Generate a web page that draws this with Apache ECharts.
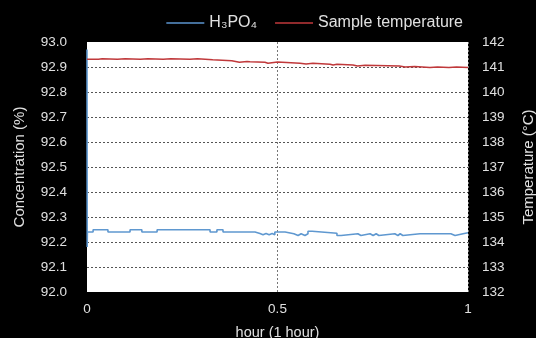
<!DOCTYPE html>
<html><head><meta charset="utf-8">
<script src="https://cdn.jsdelivr.net/npm/echarts@6/dist/echarts.min.js"></script>
<style>html,body{margin:0;padding:0;background:#000;overflow:hidden;width:536px;height:338px;}#c{position:absolute;left:0;top:0;width:536px;height:338px;}</style>
</head><body><div id="c"></div>
<script>
// H3PO4 concentration (%) – step change points (hour, value)
const h3po4Time = [0, 0.0005, 0.001, 0.016, 0.055, 0.113, 0.144, 0.184, 0.289, 0.294, 0.323, 0.341, 0.357, 0.381, 0.386, 0.441, 0.454, 0.462, 0.470, 0.478, 0.486, 0.493, 0.520, 0.543, 0.554, 0.562, 0.572, 0.580, 0.591, 0.596, 0.656, 0.667, 0.711, 0.719, 0.743, 0.751, 0.759, 0.766, 0.808, 0.816, 0.822, 0.829, 0.874, 0.879, 0.955, 0.966, 0.987, 1.0];
const h3po4Values = [92.97, 92.18, 92.24, 92.249, 92.24, 92.249, 92.24, 92.249, 92.243, 92.249, 92.24, 92.249, 92.24, 92.234, 92.24, 92.234, 92.229, 92.234, 92.229, 92.234, 92.229, 92.24, 92.233, 92.226, 92.233, 92.226, 92.233, 92.243, 92.24, 92.235, 92.226, 92.233, 92.226, 92.233, 92.226, 92.233, 92.226, 92.233, 92.226, 92.233, 92.226, 92.233, 92.229, 92.233, 92.226, 92.233, 92.237, 92.237];
// Sample temperature (°C) – step change points (hour, value)
const tempTime = [0, 0.03, 0.04, 0.08, 0.10, 0.14, 0.16, 0.20, 0.22, 0.27, 0.29, 0.31, 0.33, 0.38, 0.40, 0.42, 0.428, 0.467, 0.475, 0.50, 0.559, 0.575, 0.593, 0.638, 0.646, 0.656, 0.698, 0.71, 0.73, 0.82, 0.835, 0.86, 0.90, 0.92, 0.95, 0.97, 1.0];
const tempValues = [141.31, 141.33, 141.31, 141.33, 141.31, 141.33, 141.31, 141.33, 141.31, 141.33, 141.31, 141.29, 141.25, 141.19, 141.22, 141.21, 141.19, 141.15, 141.2, 141.15, 141.12, 141.15, 141.11, 141.08, 141.11, 141.08, 141.04, 141.07, 141.04, 141.0, 141.02, 140.98, 141.0, 140.98, 141.0, 140.98, 140.98];
const xTicks = [0, 0.5, 1];
const seriesNames = ['H\u2083PO\u2084', 'Sample temperature'];

// hold each value until the next change point (step)
function stepData(ts, vs) {
  const out = [];
  for (let i = 0; i < ts.length; i++) {
    if (i > 0) out.push([ts[i], vs[i - 1]]);
    out.push([ts[i], vs[i]]);
  }
  return out;
}

const txt = '#e0e0e0';
const font = 'Liberation Sans, Arial, Helvetica, sans-serif';
const chart = echarts.init(document.getElementById('c'), null, {renderer: 'canvas', width: 536, height: 338});
chart.setOption({
  backgroundColor: '#000',
  animation: false,
  textStyle: {fontFamily: font},
  legend: {
    top: 10, right: 68, itemWidth: 38, itemHeight: 1.5, itemGap: 18,
    icon: 'rect',
    textStyle: {color: txt, fontSize: 16, fontFamily: font},
    data: seriesNames
  },
  grid: {left: 87, right: 68, top: 42, bottom: 46, show: true, backgroundColor: '#fff', borderWidth: 0,
         containLabel: false, outerBoundsMode: 'none'},
  xAxis: {
    type: 'value', min: xTicks[0], max: xTicks[xTicks.length - 1], interval: 0.5,
    name: 'hour (1 hour)', nameLocation: 'middle', nameGap: 33,
    nameTextStyle: {color: txt, fontSize: 14.5, fontFamily: font},
    axisLine: {show: false}, axisTick: {show: false},
    axisLabel: {color: txt, fontSize: 13.5, margin: 10, fontFamily: font},
    splitLine: {show: true, showMinLine: false, showMaxLine: true, lineStyle: {color: '#777', type: [2, 2], width: 1}}
  },
  yAxis: [{
    type: 'value', min: 92, max: 93, interval: 0.1, position: 'left',
    name: 'Concentration (%)', nameLocation: 'middle', nameGap: 60, nameRotate: 90,
    nameTextStyle: {color: txt, fontSize: 15, fontFamily: font},
    axisLine: {show: false}, axisTick: {show: false},
    axisLabel: {color: txt, fontSize: 13.5, margin: 20, fontFamily: font, formatter: v => v.toFixed(1)},
    splitLine: {show: true, showMinLine: false, showMaxLine: false, lineStyle: {color: '#555', type: [2, 2], width: 1}}
  }, {
    type: 'value', min: 132, max: 142, interval: 1, position: 'right',
    name: 'Temperature (\u00b0C)', nameLocation: 'middle', nameGap: 53, nameRotate: 90,
    nameTextStyle: {color: txt, fontSize: 15, fontFamily: font},
    axisLine: {show: false}, axisTick: {show: false},
    axisLabel: {color: txt, fontSize: 13.5, margin: 14, fontFamily: font},
    splitLine: {show: false}
  }],
  series: [{
    name: seriesNames[0], type: 'line', yAxisIndex: 0, showSymbol: false,
    color: '#5b95cf', lineStyle: {width: 1.6, color: '#5f98d0'},
    data: stepData(h3po4Time, h3po4Values)
  }, {
    name: seriesNames[1], type: 'line', yAxisIndex: 1, showSymbol: false,
    color: '#c0393b', lineStyle: {width: 1.6, color: '#c0393b'},
    data: stepData(tempTime, tempValues)
  }]
});
</script></body></html>
